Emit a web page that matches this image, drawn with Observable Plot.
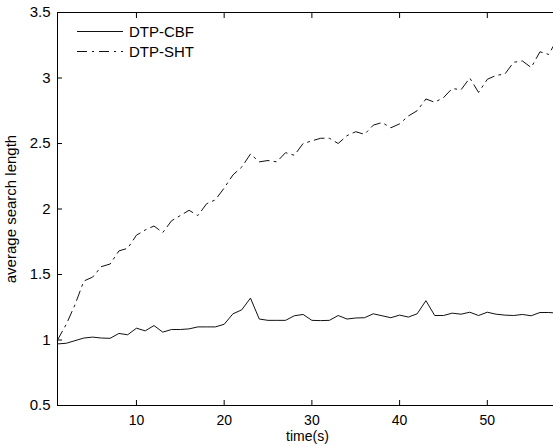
<!DOCTYPE html>
<html>
<head>
<meta charset="utf-8">
<script src="https://cdn.jsdelivr.net/npm/d3@7"></script>
<script src="https://cdn.jsdelivr.net/npm/@observablehq/plot@0.6"></script>
<style>
  html, body { margin: 0; padding: 0; background: #fff; }
  #wrap { position: relative; width: 553px; height: 447px; overflow: hidden; }
  #legend { position: absolute; left: 0; top: 0; }
</style>
</head>
<body>
<div id="wrap"></div>
<script>
const time = [1,2,3,4,5,6,7,8,9,10,11,12,13,14,15,16,17,18,19,20,21,22,23,24,25,26,27,28,29,30,31,32,33,34,35,36,37,38,39,40,41,42,43,44,45,46,47,48,49,50,51,52,53,54,55,56,57,58];
const dtpCBF = [0.97,0.975,0.995,1.015,1.022,1.015,1.013,1.05,1.04,1.09,1.07,1.11,1.06,1.08,1.08,1.085,1.10,1.10,1.10,1.12,1.20,1.23,1.32,1.16,1.15,1.15,1.15,1.185,1.195,1.15,1.148,1.15,1.187,1.16,1.168,1.17,1.20,1.185,1.17,1.19,1.175,1.20,1.30,1.187,1.187,1.205,1.197,1.212,1.187,1.212,1.197,1.19,1.187,1.195,1.185,1.21,1.21,1.205];
const dtpSHT = [1.00,1.12,1.27,1.45,1.48,1.56,1.58,1.68,1.70,1.80,1.84,1.87,1.82,1.91,1.95,1.99,1.95,2.04,2.07,2.16,2.26,2.32,2.42,2.36,2.37,2.36,2.43,2.41,2.50,2.52,2.54,2.54,2.50,2.56,2.59,2.57,2.64,2.66,2.62,2.65,2.71,2.75,2.84,2.815,2.85,2.92,2.91,3.00,2.89,2.99,3.02,3.03,3.12,3.13,3.08,3.20,3.18,3.30];
const seriesNames = ["DTP-CBF", "DTP-SHT"];
const xTicks = [10, 20, 30, 40, 50];
const yTicks = [0.5, 1, 1.5, 2, 2.5, 3, 3.5];
const yTickLabels = ["0.5", "1", "1.5", "2", "2.5", "3", "3.5"];
const xLabel = "time(s)";
const yLabel = "average search length";

const rows = time.map((t, i) => ({t, cbf: dtpCBF[i], sht: dtpSHT[i]}));
const dashDot = "10,5,2,5";
const font = "'Liberation Sans', Arial, Helvetica, sans-serif";

const chart = Plot.plot({
  width: 553,
  height: 447,
  marginLeft: 57,
  marginTop: 12,
  marginBottom: 42,
  marginRight: -4,
  style: {fontFamily: font, fontSize: "15px", color: "#000", background: "#fff"},
  x: {domain: [1, 58]},
  y: {domain: [0.5, 3.5]},
  marks: [
    Plot.line(rows, {x: "t", y: "cbf", stroke: "#111", strokeWidth: 1}),
    Plot.line(rows, {x: "t", y: "sht", stroke: "#111", strokeWidth: 1, strokeDasharray: dashDot}),
    Plot.frame({stroke: "#000", strokeWidth: 1}),
    Plot.axisX({anchor: "bottom", ticks: xTicks, tickSize: -5, tickPadding: 15, fontSize: 14, label: null, tickFormat: d => String(d)}),
    Plot.axisX({anchor: "top", ticks: xTicks, tickSize: -5, label: null, tickFormat: () => ""}),
    Plot.axisY({anchor: "left", ticks: yTicks, tickSize: -5, tickPadding: 12, label: null, tickFormat: d => yTickLabels[yTicks.indexOf(d)]}),
    Plot.axisY({anchor: "right", ticks: yTicks, tickSize: -5, label: null, tickFormat: () => ""}),
    Plot.text([xLabel], {frameAnchor: "bottom", dy: 35.5, fontSize: 14, text: d => d, fill: "#000", textAnchor: "middle"}),
    Plot.text([yLabel], {frameAnchor: "left", dx: -46, rotate: -90, text: d => d, fill: "#000", textAnchor: "middle"})
  ]
});
document.getElementById("wrap").appendChild(chart);

// Legend (no box), drawn as an overlay
const ns = "http://www.w3.org/2000/svg";
const leg = document.createElementNS(ns, "svg");
leg.setAttribute("id", "legend");
leg.setAttribute("width", 220);
leg.setAttribute("height", 70);
const styles = [null, dashDot];
seriesNames.forEach((name, i) => {
  const y = 31.5 + i * 20;
  const ln = document.createElementNS(ns, "line");
  ln.setAttribute("x1", 77); ln.setAttribute("x2", 123);
  ln.setAttribute("y1", y); ln.setAttribute("y2", y);
  ln.setAttribute("stroke", "#111");
  ln.setAttribute("stroke-width", 1);
  if (styles[i]) ln.setAttribute("stroke-dasharray", styles[i]);
  leg.appendChild(ln);
  const tx = document.createElementNS(ns, "text");
  tx.setAttribute("x", 129);
  tx.setAttribute("y", y);
  tx.setAttribute("dy", "0.35em");
  tx.setAttribute("font-family", font);
  tx.setAttribute("font-size", "15px");
  tx.setAttribute("fill", "#000");
  tx.textContent = name;
  leg.appendChild(tx);
});
document.getElementById("wrap").appendChild(leg);
</script>
</body>
</html>
